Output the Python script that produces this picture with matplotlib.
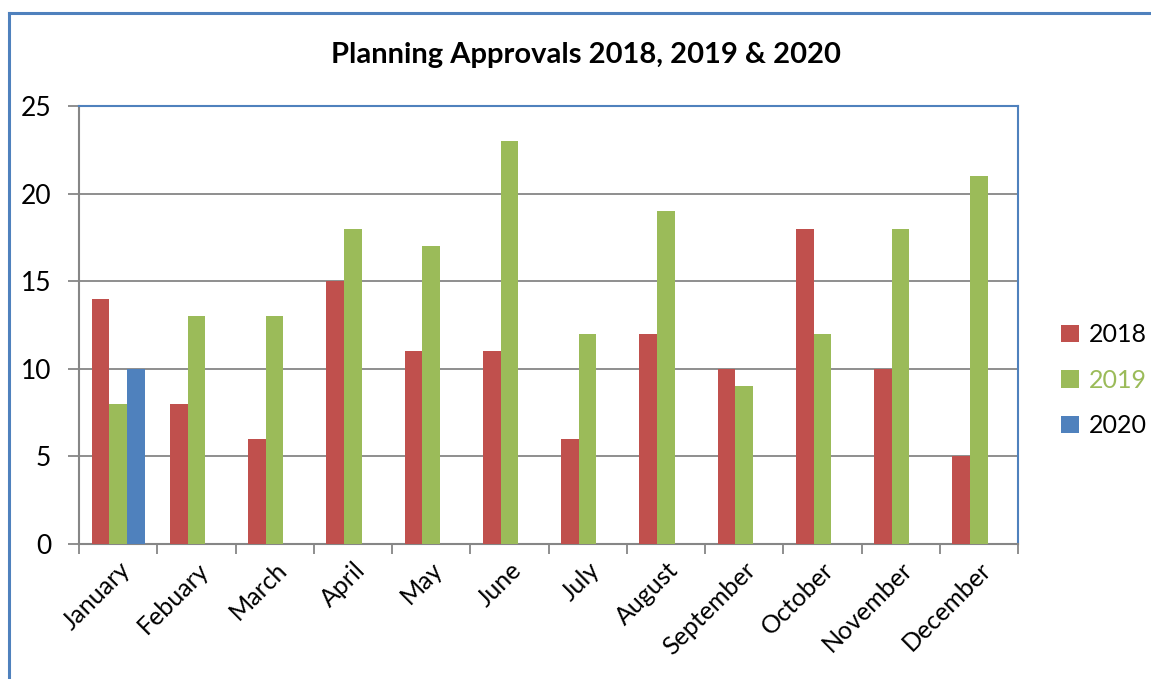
import numpy as np
import matplotlib.pyplot as plt
from matplotlib.lines import Line2D

plt.rcParams['font.family'] = ['Lato', 'DejaVu Sans']

months = ['January', 'Febuary', 'March', 'April', 'May', 'June', 'July',
          'August', 'September', 'October', 'November', 'December']
approvals_2018 = [14, 8, 6, 15, 11, 11, 6, 12, 10, 18, 10, 5]
approvals_2019 = [8, 13, 13, 18, 17, 23, 12, 19, 9, 12, 18, 21]
approvals_2020 = [10]

red = '#C0504D'
green = '#9BBB59'
blue = '#4F81BD'
grey = '#868686'

fig = plt.figure(figsize=(11.51, 6.79), dpi=100)
ax = fig.add_axes([79 / 1151, 1 - 544 / 679, 939 / 1151, 438 / 679])

x = np.arange(len(months))
w = 0.225
ax.bar(x - w, approvals_2018, w, color=red, label='2018', zorder=3)
ax.bar(x, approvals_2019, w, color=green, label='2019', zorder=3)
ax.bar(x[:len(approvals_2020)] + w, approvals_2020, w, color=blue, label='2020', zorder=3)

ax.set_xlim(-0.5, len(months) - 0.5)
ax.set_ylim(0, 25)
ax.set_yticks(range(0, 26, 5))
ax.yaxis.grid(True, color=grey, linewidth=1.3, zorder=0)
ax.tick_params(axis='y', labelsize=19, length=8, width=1.3, color=grey, pad=12)

# category labels at centres, tick marks between categories
ax.set_xticks(x)
ax.set_xticklabels(months, rotation=45, ha='right', rotation_mode='anchor', fontsize=18)
ax.tick_params(axis='x', which='major', length=0, pad=10)
ax.set_xticks(np.arange(-0.5, len(months)), minor=True)
ax.tick_params(axis='x', which='minor', length=7, width=1.3, color=grey)

for s in ['left', 'bottom']:
    ax.spines[s].set_color(grey)
    ax.spines[s].set_linewidth(1.5)
for s in ['top', 'right']:
    ax.spines[s].set_color(blue)
    ax.spines[s].set_linewidth(1.5)

fig.text(0.5 * (331 + 841) / 1151, 1 - 55 / 679, 'Planning Approvals 2018, 2019 & 2020',
         ha='center', va='center', fontsize=21, fontweight='bold')

h, l = ax.get_legend_handles_labels()
leg = fig.legend(h, l, loc='center left', bbox_to_anchor=(1061 / 1151, 1 - 380 / 679),
                 frameon=False, fontsize=18, handlelength=0.7, handleheight=0.7,
                 labelspacing=0.9, handletextpad=0.4, borderpad=0, borderaxespad=0)
leg.get_texts()[1].set_color(green)

# chart area border (cropped screenshot)
fig.add_artist(Line2D([9 / 1151, 9 / 1151], [0, 1 - 13 / 679], color=blue, linewidth=2.2))
fig.add_artist(Line2D([9 / 1151, 1], [1 - 13 / 679, 1 - 13 / 679], color=blue, linewidth=2.2))

fig.savefig('out.png', dpi=100)
